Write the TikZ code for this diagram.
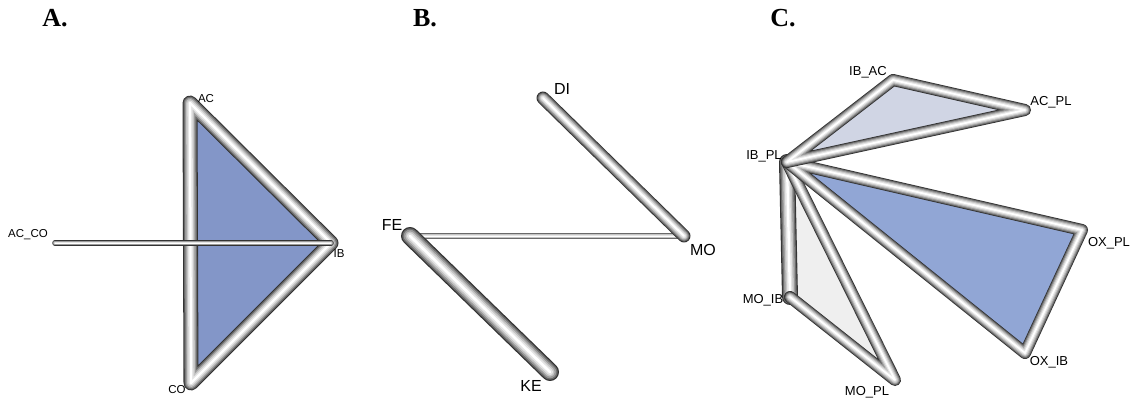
\documentclass[tikz,border=0pt]{standalone}
\usepackage{fontspec}
\setmainfont{Liberation Sans}
\newfontfamily\titlefont{Liberation Serif}
\definecolor{tubeA}{HTML}{333333}
\definecolor{tubeB}{HTML}{6A6A6A}
\definecolor{tubeC}{HTML}{9A9A9A}
\definecolor{tubeD}{HTML}{C4C4C4}
\definecolor{tubeE}{HTML}{E4E4E4}
\definecolor{fillA}{HTML}{8396C8}
\definecolor{fillBlue}{HTML}{91A6D5}
\definecolor{fillLav}{HTML}{D0D5E4}
\definecolor{fillGray}{HTML}{EFEFEF}
\tikzset{
  tube/.style={draw=tubeA, line width=#1, line cap=round, line join=round,
    postaction={draw=tubeB, line width=0.86*#1, line cap=round, line join=round},
    postaction={draw=tubeC, line width=0.7*#1, line cap=round, line join=round},
    postaction={draw=tubeD, line width=0.52*#1, line cap=round, line join=round},
    postaction={draw=tubeE, line width=0.34*#1, line cap=round, line join=round},
    postaction={draw=white, line width=0.15*#1, line cap=round, line join=round}},
  labA/.style={font=\fontsize{11.5}{12}\selectfont, inner sep=0pt},
  labB/.style={font=\fontsize{16}{17}\selectfont, inner sep=0pt},
  labC/.style={font=\fontsize{13}{14}\selectfont, inner sep=0pt},
  ttl/.style={font=\titlefont\bfseries\fontsize{26}{28}\selectfont, inner sep=0pt}
}
\begin{document}
\begin{tikzpicture}[x=1pt,y=-1pt]
\useasboundingbox (0,0) rectangle (1133,398);
% titles
\node[ttl] (tA) at (55,18) {A.};
\node[ttl] (tB) at (425,18) {B.};
\node[ttl] (tC) at (783,18) {C.};
% ---------- Panel A ----------
\coordinate (AC) at (190,103);
\coordinate (IB) at (331,243);
\coordinate (CO) at (191,383);
\coordinate (ACCO) at (55,243);
\fill[fillA] (AC) -- (IB) -- (CO) -- cycle;
\draw[tube=15pt] (AC) -- (IB) -- (CO) -- cycle;
\draw[tube=5.5pt] (ACCO) -- (IB);
\node[labA] (lAC) at (206,99) {AC};
\node[labA] (lACCO) at (28,235) {AC\_CO};
\node[labA] (lIB) at (339,254) {IB};
\node[labA] (lCO) at (177,390) {CO};
% ---------- Panel B ----------
\coordinate (DI) at (543,98);
\coordinate (MO) at (684,236);
\coordinate (FE) at (410,236);
\coordinate (KE) at (550,372);
\draw[tube=6pt] (FE) -- (MO);
\draw[tube=13pt] (DI) -- (MO);
\draw[tube=18pt] (FE) -- (KE);
\node[labB] (lDI) at (562,89) {DI};
\node[labB] (lFE) at (392,225) {FE};
\node[labB] (lMO) at (703,250) {MO};
\node[labB] (lKE) at (531,386) {KE};
% ---------- Panel C ----------
\coordinate (IBPL) at (787,162);
\coordinate (IBAC) at (893,80);
\coordinate (ACPL) at (1025,110);
\coordinate (OXPL) at (1082,230);
\coordinate (OXIB) at (1025,353);
\coordinate (MOIB) at (790,297);
\coordinate (MOPL) at (895,380);
\fill[fillLav] (IBPL) -- (IBAC) -- (ACPL) -- cycle;
\fill[fillBlue] (IBPL) -- (OXPL) -- (OXIB) -- cycle;
\fill[fillGray] (IBPL) -- (MOIB) -- (MOPL) -- cycle;
\draw[tube=16pt] (IBPL) -- (MOIB);
\draw[tube=12pt] (MOIB) -- (MOPL) -- (IBPL);
\draw[tube=12pt] (IBPL) -- (OXIB) -- (OXPL) -- (IBPL);
\draw[tube=12pt] (IBPL) -- (IBAC) -- (ACPL) -- (IBPL);
\node[labC] (lIBAC) at (868,72) {IB\_AC};
\node[labC] (lACPL) at (1051,102) {AC\_PL};
\node[labC] (lIBPL) at (764,156) {IB\_PL};
\node[labC] (lOXPL) at (1109,243) {OX\_PL};
\node[labC] (lOXIB) at (1049,362) {OX\_IB};
\node[labC] (lMOIB) at (763,300) {MO\_IB};
\node[labC] (lMOPL) at (867,392) {MO\_PL};
\end{tikzpicture}
\end{document}
